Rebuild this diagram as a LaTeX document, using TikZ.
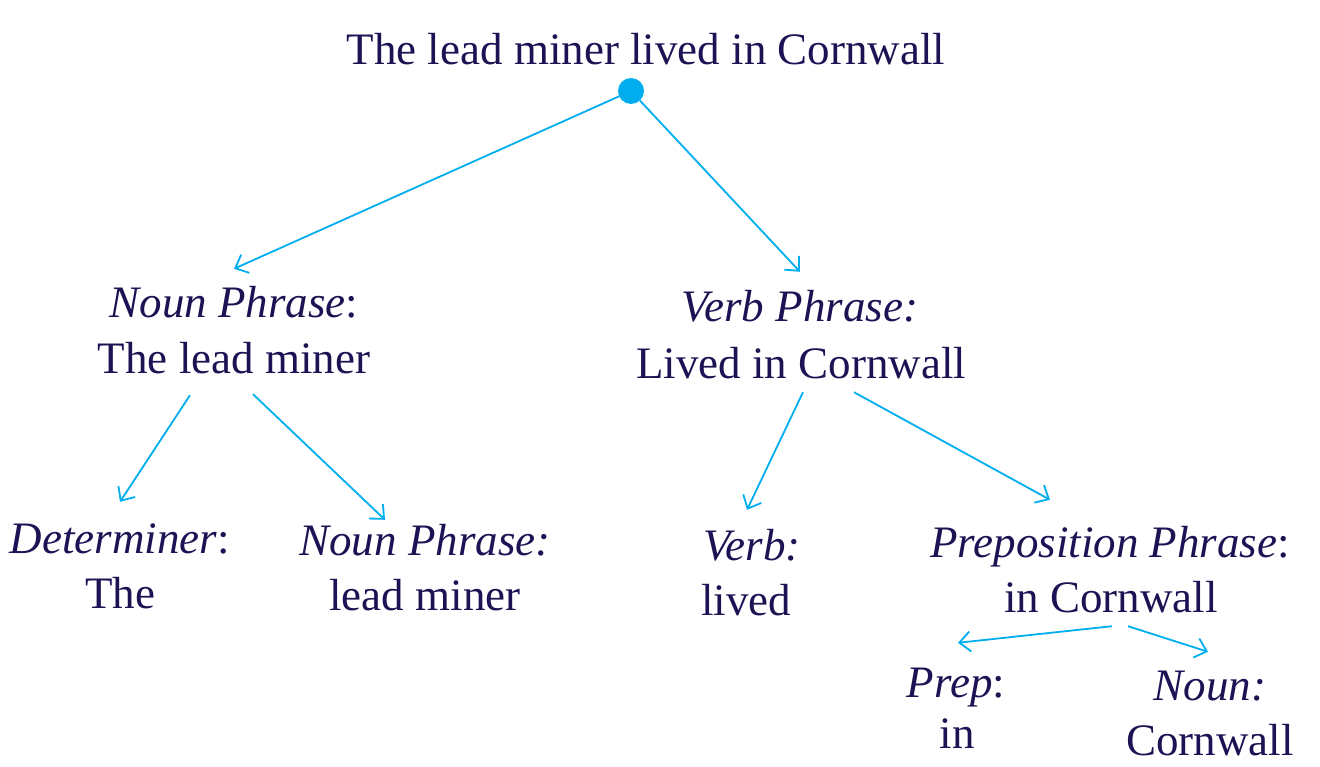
\documentclass[tikz,border=0pt]{standalone}
\usepackage{fontspec}
\setmainfont{Liberation Serif}
\usetikzlibrary{arrows.meta}
\definecolor{txt}{HTML}{1C1254}
\definecolor{arr}{HTML}{00AEEF}
\begin{document}
\begin{tikzpicture}[x=1pt,y=-1pt,
  lbl/.style={text=txt,font=\fontsize{45}{54}\selectfont,inner sep=0pt,anchor=base,text height=31pt,text depth=10pt},
  conn/.style={draw=arr,line width=1.8pt,-{Straight Barb[length=11pt,width=20pt,line width=1.8pt]}}]
\useasboundingbox (0,0) rectangle (1320,767);
\node[lbl] (root) at (646,65) {The lead miner lived in Cornwall};
\node[circle,fill=arr,minimum size=26pt,inner sep=0pt] (dot) at (631,91) {};
\node[lbl] (np1) at (234,318) {\textit{Noun Phrase}:};
\node[lbl] (npb) at (234,373) {The lead miner};
\node[lbl] (vp1) at (800,322) {\textit{Verb Phrase:}};
\node[lbl] (vpb) at (801,378) {Lived in Cornwall};
\node[lbl] (det1) at (120,553) {\textit{Determiner}:};
\node[lbl] (detb) at (120,608) {The};
\node[lbl] (np2) at (425,555) {\textit{Noun Phrase:}};
\node[lbl] (np2b) at (425,610) {lead miner};
\node[lbl] (verb1) at (752,560) {\textit{Verb:}};
\node[lbl] (verbb) at (746,615) {lived};
\node[lbl] (pp1) at (1110,557) {\textit{Preposition Phrase}:};
\node[lbl] (ppb) at (1111,612) {in Cornwall};
\node[lbl] (prep1) at (956,697) {\textit{Prep}:};
\node[lbl] (prepb) at (957,748) {in};
\node[lbl] (noun1) at (1210,700) {\textit{Noun:}};
\node[lbl] (nounb) at (1210,755) {Cornwall};
\draw[conn] (dot) -- ([yshift=18pt]np1.north);
\draw[conn] (dot) -- ([yshift=19pt]vp1.north);
\draw[conn] ([xshift=-44pt,yshift=-12pt]npb.south) -- ([yshift=20pt]det1.north);
\draw[conn] ([xshift=19pt,yshift=-11pt]npb.south) -- ([xshift=-40pt,yshift=4pt]np2.north);
\draw[conn] ([xshift=2pt,yshift=-4pt]vpb.south) -- ([xshift=-5pt,yshift=19pt]verb1.north);
\draw[conn] ([xshift=53pt,yshift=-4pt]vpb.south) -- ([xshift=-60pt,yshift=26pt]pp1.north);
\draw[conn] ([xshift=1pt,yshift=-4pt]ppb.south) -- ([xshift=2pt,yshift=23pt]prep1.north);
\draw[conn] ([xshift=17pt,yshift=-4pt]ppb.south) -- ([xshift=-2pt,yshift=17pt]noun1.north);
\end{tikzpicture}
\end{document}
